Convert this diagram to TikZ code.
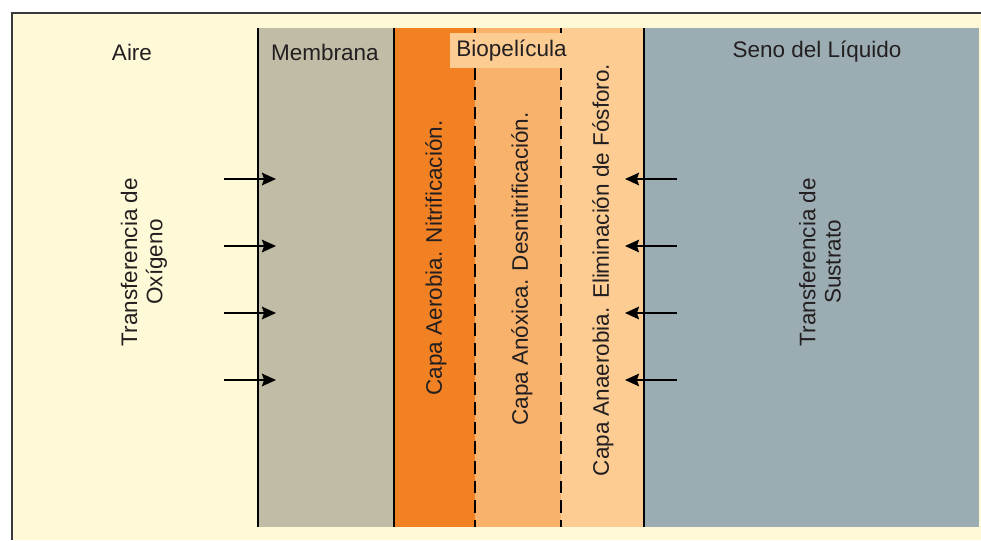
\documentclass[tikz,border=0pt]{standalone}
\usepackage{fontspec}
\setmainfont{Liberation Sans}
\usetikzlibrary{arrows.meta}

\definecolor{crema}{HTML}{FEF9D6}
\definecolor{membrana}{HTML}{C1BCA5}
\definecolor{aerobia}{HTML}{F28123}
\definecolor{anoxica}{HTML}{F8B26C}
\definecolor{anaerobia}{HTML}{FCCC93}
\definecolor{liquido}{HTML}{9BADB3}
\definecolor{texto}{HTML}{231F20}
\definecolor{marco}{HTML}{3A3A3A}

\begin{document}
\begin{tikzpicture}[
        x=0.025cm, y=-0.025cm,
        etiqueta/.style={font=\fontsize{16}{18}\selectfont, text=texto, inner sep=0pt, align=center},
        capa/.style={etiqueta, rotate=90},
        flecha/.style={-{Stealth[length=10pt, width=9pt, inset=1.5pt]}, line width=1pt, black},
        limite/.style={line width=1.2pt, black},
        division/.style={line width=2.1pt, black, dash pattern=on 9pt off 5pt}
    ]
        \useasboundingbox (0,0) rectangle (981,540);

        % === Fondo y marco ===
        \fill[white] (0,0) rectangle (981,540);
        \fill[crema] (12,13) rectangle (981,540);
        \draw[marco, line width=2pt] (12,540) -- (12,13) -- (981,13);

        % === Zonas ===
        \fill[membrana] (258,28) rectangle (394,527);
        \fill[aerobia] (394,28) rectangle (475,527);
        \fill[anoxica] (475,28) rectangle (561,527);
        \fill[anaerobia] (561,28) rectangle (644,527);
        \fill[liquido] (644,28) rectangle (979,527);

        \draw[limite] (258,28) -- (258,527);
        \draw[limite] (394,28) -- (394,527);
        \draw[limite] (644,28) -- (644,527);
        \draw[division] (475,28) -- (475,527);
        \draw[division] (561,28) -- (561,527);

        % === Titulos ===
        \node[etiqueta] (aire) at (132,52) {Aire};
        \node[etiqueta] (memb) at (325,52) {Membrana};
        \node[etiqueta, fill=anaerobia, minimum width=87.5pt, minimum height=25pt] (bio) at (511.5,50.5) {Biopelícula};
        \node[etiqueta] (seno) at (817,52) {Seno del Líquido};

        % === Textos verticales ===
        \node[capa] (oxig) at (144,262) {Transferencia de\\Oxígeno};
        \node[capa] (aer) at (436,258) {Capa Aerobia. Nitrificación.};
        \node[capa] (anox) at (522,269) {Capa Anóxica. Desnitrificación.};
        \node[capa] (anae) at (603,270) {Capa Anaerobia. Eliminación de Fósforo.};
        \node[capa] (sust) at (820,262) {Transferencia de\\Sustrato};

        % === Flechas ===
        \foreach \i/\yy in {1/179, 2/246, 3/313, 4/380} {
            \coordinate (ox\i) at (224,\yy);
            \coordinate (me\i) at (276,\yy);
            \coordinate (li\i) at (677,\yy);
            \coordinate (bp\i) at (625,\yy);
            \draw[flecha] (ox\i) -- (me\i);
            \draw[flecha] (li\i) -- (bp\i);
        }
    \end{tikzpicture}
\end{document}
